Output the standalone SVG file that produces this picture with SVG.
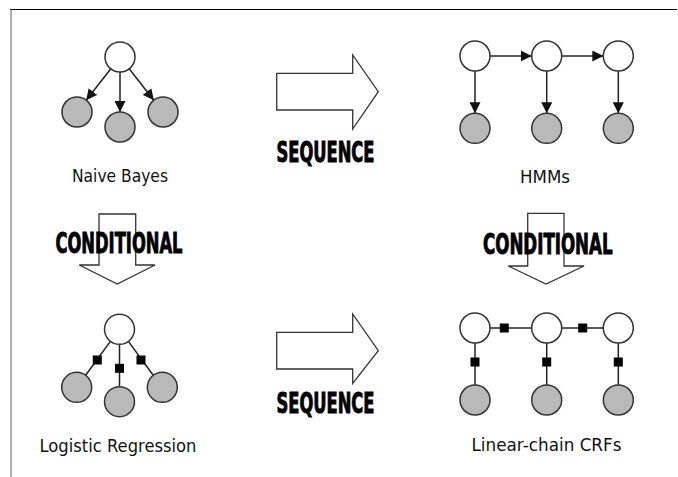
<svg xmlns="http://www.w3.org/2000/svg" width="678" height="477" viewBox="0 0 678 477">
<defs>
<marker id="arr" viewBox="0 0 10 10" refX="10" refY="5" markerWidth="11" markerHeight="11" markerUnits="userSpaceOnUse" orient="auto">
<path d="M0,0 L10,5 L0,10 Z" fill="#111"/>
</marker>
</defs>
<style>
.bg{fill:#ffffff}
.hid{fill:#ffffff;stroke:#333;stroke-width:1.5}
.obs{fill:#b9b9b9;stroke:#333;stroke-width:1.5}
.edge{stroke:#222;stroke-width:1.5;fill:none}
.dir{marker-end:url(#arr)}
.fac{fill:#000}
.big{fill:#ffffff;stroke:#333;stroke-width:1.3}
.lbl{font-family:"DejaVu Sans","Verdana",sans-serif;font-size:17.5px;fill:#111;text-anchor:middle}
.word{font-family:"Liberation Sans Narrow","DejaVu Sans Condensed","Liberation Sans",sans-serif;font-weight:bold;font-size:28px;fill:#000;stroke:#000;stroke-width:0.9}
</style>
<rect class="bg" x="0" y="0" width="678" height="477"/>
<g id="frame">
<line x1="10" y1="9.5" x2="677" y2="9.5" stroke="#000" stroke-width="1.2"/>
<line x1="11" y1="9.5" x2="11" y2="477" stroke="#777" stroke-width="1.2"/>
</g>

<g id="connectors">
<!-- Naive Bayes -->
<line class="edge dir" x1="110.8" y1="68.8" x2="86.2" y2="100.2"/>
<line class="edge dir" x1="120" y1="72" x2="120" y2="112"/>
<line class="edge dir" x1="129.2" y1="68.8" x2="153.8" y2="100.2"/>
<!-- HMMs -->
<line class="edge dir" x1="490" y1="56" x2="531.7" y2="56"/>
<line class="edge dir" x1="561.7" y1="56" x2="603.3" y2="56"/>
<line class="edge dir" x1="475" y1="71" x2="475" y2="113.3"/>
<line class="edge dir" x1="546.7" y1="71" x2="546.7" y2="113.3"/>
<line class="edge dir" x1="618.3" y1="71" x2="618.3" y2="113.3"/>
<!-- Logistic Regression -->
<line class="edge" x1="110.4" y1="341.4" x2="85.6" y2="375.2"/>
<line class="edge" x1="119.5" y1="344.3" x2="119.5" y2="386.7"/>
<line class="edge" x1="128.4" y1="341.4" x2="153.2" y2="375.2"/>
<rect class="fac" x="92.8" y="355.5" width="9" height="9"/>
<rect class="fac" x="115" y="363.8" width="9" height="9"/>
<rect class="fac" x="136.5" y="355.5" width="9" height="9"/>
<!-- CRFs -->
<line class="edge" x1="490" y1="328" x2="531.7" y2="328"/>
<line class="edge" x1="561.7" y1="328" x2="603.3" y2="328"/>
<line class="edge" x1="475" y1="343" x2="475" y2="385"/>
<line class="edge" x1="546.7" y1="343" x2="546.7" y2="385"/>
<line class="edge" x1="618.3" y1="343" x2="618.3" y2="385"/>
<rect class="fac" x="499.8" y="323.5" width="9" height="9"/>
<rect class="fac" x="578.2" y="323.5" width="9" height="9"/>
<rect class="fac" x="470.5" y="357.5" width="9" height="9"/>
<rect class="fac" x="542.2" y="357.5" width="9" height="9"/>
<rect class="fac" x="613.8" y="357.5" width="9" height="9"/>
</g>

<g id="naive-bayes">
<circle class="hid" cx="120" cy="57" r="15"/>
<circle class="obs" cx="77" cy="112" r="15"/>
<circle class="obs" cx="120" cy="127" r="15"/>
<circle class="obs" cx="163" cy="112" r="15"/>
<text class="lbl" x="120" y="182" textLength="96" lengthAdjust="spacingAndGlyphs">Naive Bayes</text>
</g>

<g id="hmms">
<circle class="hid" cx="475" cy="56" r="15"/>
<circle class="hid" cx="546.7" cy="56" r="15"/>
<circle class="hid" cx="618.3" cy="56" r="15"/>
<circle class="obs" cx="475" cy="128.3" r="15"/>
<circle class="obs" cx="546.7" cy="128.3" r="15"/>
<circle class="obs" cx="618.3" cy="128.3" r="15"/>
<text class="lbl" x="545" y="183" textLength="50" lengthAdjust="spacingAndGlyphs">HMMs</text>
</g>

<g id="logistic-regression">
<circle class="hid" cx="119.5" cy="329.3" r="15"/>
<circle class="obs" cx="76.7" cy="387.3" r="15"/>
<circle class="obs" cx="119.5" cy="401.7" r="15"/>
<circle class="obs" cx="162.3" cy="387.3" r="15"/>
<text class="lbl" x="118" y="451.5" textLength="157" lengthAdjust="spacingAndGlyphs">Logistic Regression</text>
</g>

<g id="linear-chain-crfs">
<circle class="hid" cx="475" cy="328" r="15"/>
<circle class="hid" cx="546.7" cy="328" r="15"/>
<circle class="hid" cx="618.3" cy="328" r="15"/>
<circle class="obs" cx="475" cy="400" r="15"/>
<circle class="obs" cx="546.7" cy="400" r="15"/>
<circle class="obs" cx="618.3" cy="400" r="15"/>
<text class="lbl" x="546.5" y="450.5" textLength="150" lengthAdjust="spacingAndGlyphs">Linear-chain CRFs</text>
</g>

<g id="sequence-top">
<path class="big" d="M276.7,73.3 L352.7,73.3 L352.7,55 L378.3,91.7 L352.7,129 L352.7,110 L276.7,110 Z"/>
<text class="word" x="276.5" y="161.7" textLength="98" lengthAdjust="spacingAndGlyphs">SEQUENCE</text>
</g>

<g id="sequence-bottom">
<path class="big" d="M276.7,332.3 L352.7,332.3 L352.7,314 L378.3,350.7 L352.7,383.3 L352.7,369 L276.7,369 Z"/>
<text class="word" x="276.5" y="413.3" textLength="98" lengthAdjust="spacingAndGlyphs">SEQUENCE</text>
</g>

<g id="conditional-left">
<path class="big" d="M99,214 L135.7,214 L135.7,265 L155,265 L117.3,284 L79.3,265 L99,265 Z"/>
<text class="word" x="55.5" y="253.3" textLength="127" lengthAdjust="spacingAndGlyphs">CONDITIONAL</text>
</g>

<g id="conditional-right">
<path class="big" d="M527.7,213.3 L564,213.3 L564,266 L584,266 L546,284 L508.3,266 L527.7,266 Z"/>
<text class="word" x="483" y="254" textLength="129.6" lengthAdjust="spacingAndGlyphs">CONDITIONAL</text>
</g>
</svg>
